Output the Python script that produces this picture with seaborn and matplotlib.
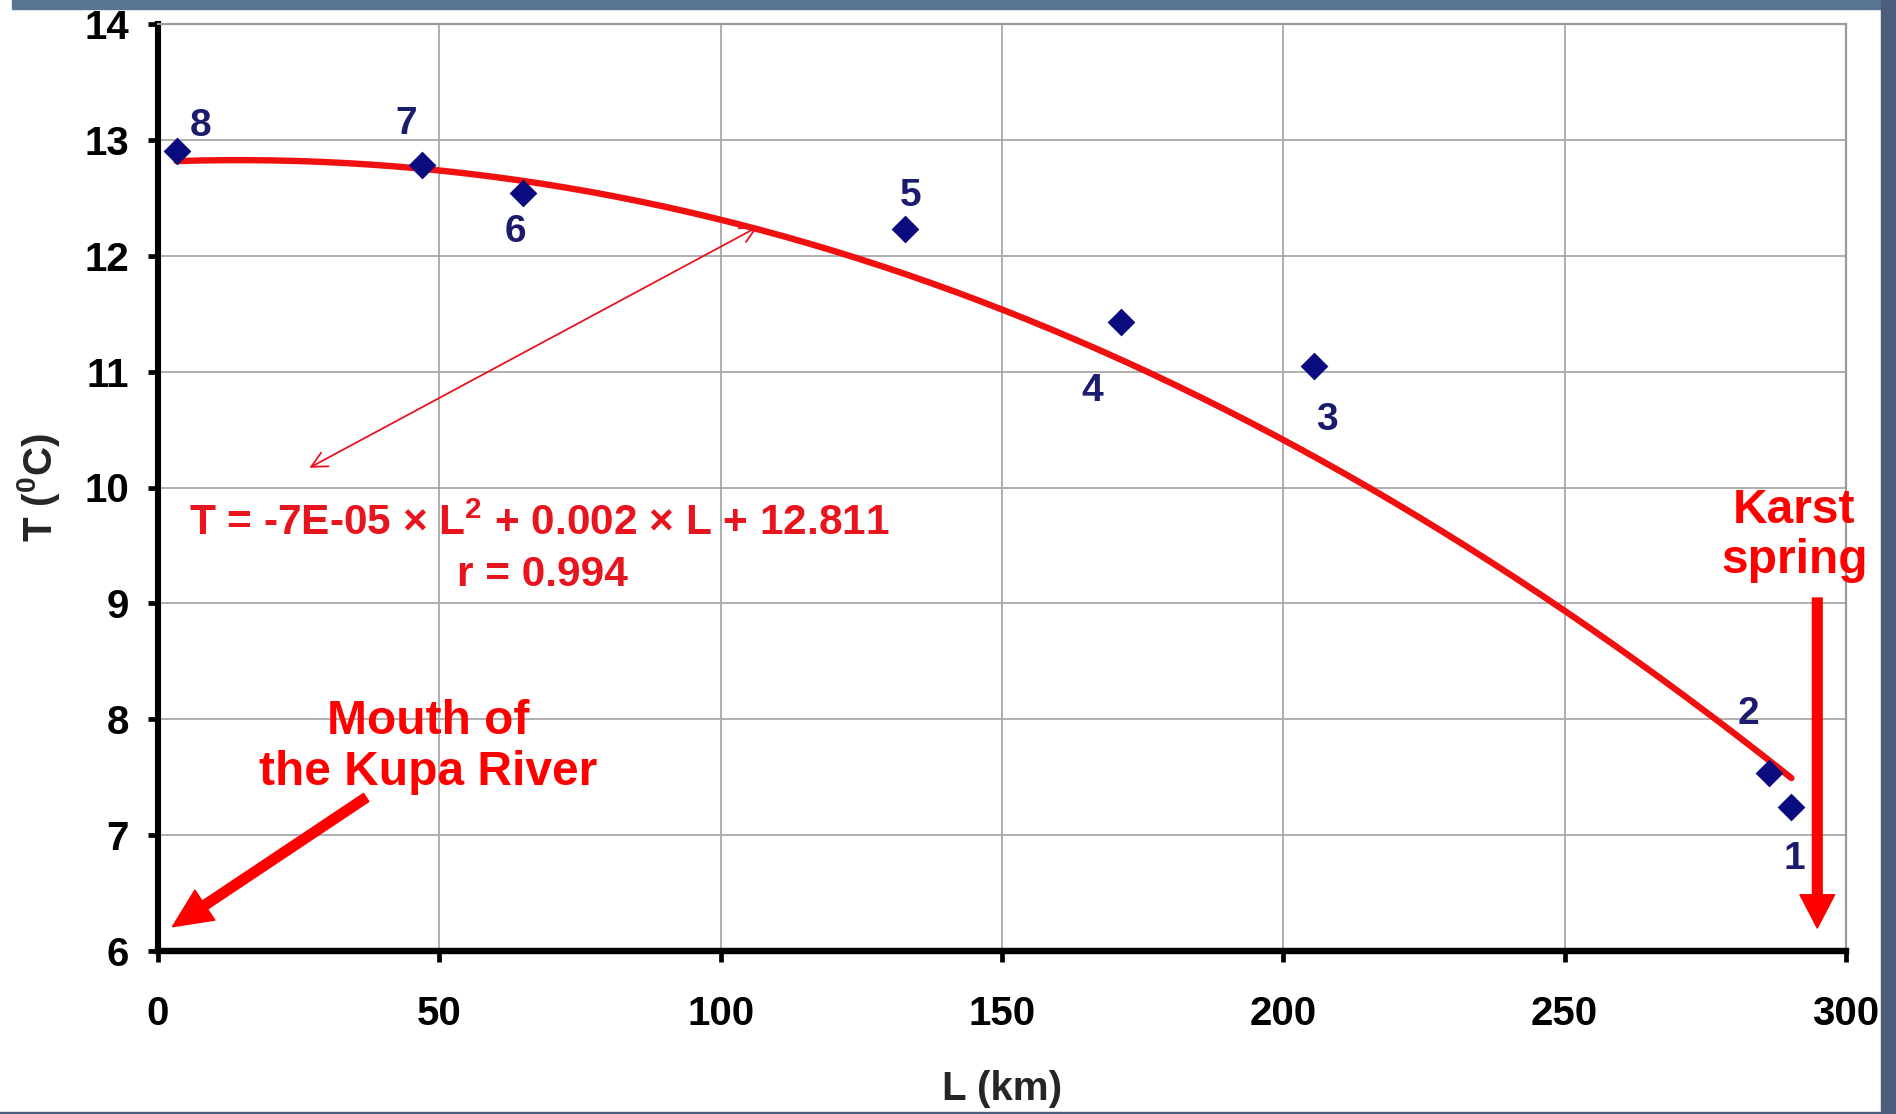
import numpy as np
import pandas as pd
import matplotlib
matplotlib.use("Agg")
import matplotlib.pyplot as plt
import seaborn as sns
from matplotlib.patches import Rectangle

# ---------------- data ----------------
site_ids = [1, 2, 3, 4, 5, 6, 7, 8]
distance_km = [290.3, 286.3, 205.5, 171.2, 132.8, 64.8, 47.0, 3.3]
temperature_c = [7.24, 7.54, 11.05, 11.43, 12.23, 12.54, 12.78, 12.90]
# trend-line coefficients as printed on the chart (a*L^2 + b*L + c)
trend_coefs = [-7e-05, 0.002, 12.811]
x_ticks = [0, 50, 100, 150, 200, 250, 300]
y_ticks = [6, 7, 8, 9, 10, 11, 12, 13, 14]
equation_text = "T = -7E-05 × L$^2$ + 0.002 × L + 12.811"
r_text = "r = 0.994"
mouth_text = "Mouth of\nthe Kupa River"
spring_text = "Karst\nspring"
x_label = "L (km)"
y_label = "T ($^0$C)"

df = pd.DataFrame({"L": distance_km, "T": temperature_c, "site": site_ids})
trend_L = np.linspace(min(distance_km), max(distance_km), 200)
trend_df = pd.DataFrame({"L": trend_L, "T": np.polyval(trend_coefs, trend_L)})

# ---------------- style ----------------
sns.set_style("white")
plt.rcParams["font.family"] = ["Liberation Sans", "DejaVu Sans"]
plt.rcParams["font.weight"] = "bold"
plt.rcParams["mathtext.fontset"] = "custom"
plt.rcParams["mathtext.rm"] = "Liberation Sans:bold"
plt.rcParams["mathtext.it"] = "Liberation Sans:bold"
plt.rcParams["mathtext.bf"] = "Liberation Sans:bold"

RED = "#ff0000"
TXT_RED = "#e8141e"
NAVY = "#0b0b80"
LBL_NAVY = "#1c1c6e"

fig = plt.figure(figsize=(18.96, 11.14), dpi=100)
ax = fig.add_axes([158 / 1896, 1 - 951 / 1114, (1846 - 158) / 1896, (951 - 24) / 1114])

# grid
ax.set_axisbelow(True)
ax.grid(True, color="#a8a8a8", lw=1.3)

# trend line
sns.lineplot(data=trend_df, x="L", y="T", color="#f01010", lw=4.6, zorder=3, ax=ax,
             legend=False)

# points
sns.scatterplot(data=df, x="L", y="T", marker="D", s=200, color=NAVY,
                edgecolor=NAVY, linewidth=0, zorder=4, ax=ax, legend=False)

# point labels (offsets in points)
label_offsets = {1: (2, -37), 2: (-15, 42), 3: (9, -39), 4: (-21, -50),
                 5: (4, 24), 6: (-5, -28), 7: (-12, 30), 8: (17, 18)}
for sid, lx, ty in zip(site_ids, distance_km, temperature_c):
    ax.annotate(str(sid), (lx, ty), xytext=label_offsets[sid], textcoords="offset points",
                ha="center", va="center", fontsize=28, fontweight="bold", color=LBL_NAVY,
                zorder=5)

ax.set_xlim(x_ticks[0], x_ticks[-1])
ax.set_ylim(y_ticks[0], y_ticks[-1])
ax.set_xticks(x_ticks)
ax.set_yticks(y_ticks)

# spines
for s in ["top", "right"]:
    ax.spines[s].set_visible(True)
    ax.spines[s].set_color("#9a9a9a")
    ax.spines[s].set_linewidth(1.6)
ax.spines["left"].set_color("black")
ax.spines["left"].set_linewidth(4.4)
ax.spines["bottom"].set_color("black")
ax.spines["bottom"].set_linewidth(4.6)

ax.tick_params(axis="x", which="major", direction="out", length=8, width=3.4,
               colors="black", labelsize=29, pad=24, bottom=True)
ax.tick_params(axis="y", which="major", direction="out", length=7, width=3.4,
               colors="black", labelsize=29, pad=14, left=True)
for lab in ax.get_xticklabels() + ax.get_yticklabels():
    lab.set_fontweight("bold")

ax.set_xlabel(x_label, fontsize=29, fontweight="bold", labelpad=26)
ax.set_ylabel(y_label, fontsize=29, fontweight="bold", labelpad=16)

# equation
ax.text(67.7, 9.69, equation_text, ha="center", va="center", fontsize=30.5,
        fontweight="bold", color=TXT_RED, zorder=6)
ax.text(68.4, 9.244, r_text, ha="center", va="center", fontsize=30.5,
        fontweight="bold", color=TXT_RED, zorder=6)

# thin double-headed arrow
ax.annotate("", xy=(106.6, 12.25), xytext=(26.9, 10.17),
            arrowprops=dict(arrowstyle="<->", color="#e8141e", lw=1.3,
                            mutation_scale=28, shrinkA=0, shrinkB=0), zorder=6)

# mouth text + arrow
ax.text(48.0, 7.76, mouth_text, ha="center", va="center", fontsize=34.5,
        fontweight="bold", color=RED, linespacing=1.15, zorder=6)
ax.annotate("", xy=(2.58, 6.21), xytext=(37.0, 7.325),
            arrowprops=dict(width=7, headwidth=26, headlength=28, color=RED,
                            shrink=0), zorder=6, annotation_clip=False)

# spring text + arrow
ax.text(290.8, 9.583, spring_text, ha="center", va="center", fontsize=34.5,
        fontweight="bold", color=RED, linespacing=1.15, zorder=6)
ax.annotate("", xy=(294.9, 6.198), xytext=(294.9, 9.046),
            arrowprops=dict(width=7, headwidth=25, headlength=24, color=RED,
                            shrink=0), zorder=6, annotation_clip=False)

# slate frame around slide
frame_top = "#587594"
frame_side = "#4b5f7c"
fig.patches.append(Rectangle((12 / 1896, 1 - 9 / 1114), 1, 9 / 1114, transform=fig.transFigure,
                             color=frame_top, zorder=10))
fig.patches.append(Rectangle((1881 / 1896, 0), 15 / 1896, 1, transform=fig.transFigure,
                             color=frame_side, zorder=10))
fig.patches.append(Rectangle((0, 0), 1, 2 / 1114, transform=fig.transFigure,
                             color=frame_side, zorder=10))

fig.savefig("out.png", dpi=100, facecolor="white")
